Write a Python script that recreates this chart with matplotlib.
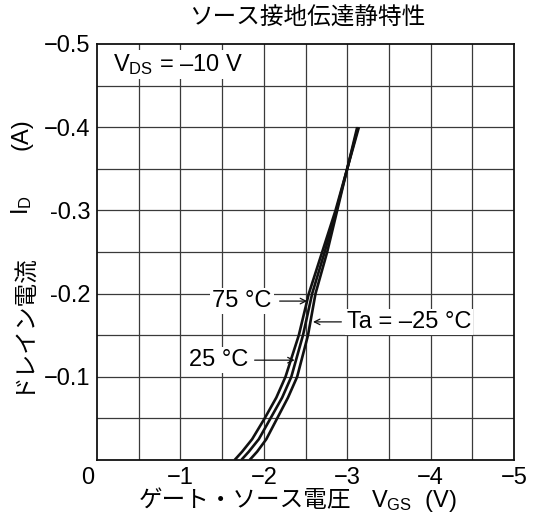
import matplotlib
matplotlib.use("Agg")
import matplotlib.pyplot as plt
from matplotlib.transforms import ScaledTranslation

plt.rcParams['font.family'] = ['Liberation Sans', 'Noto Sans CJK JP', 'DejaVu Sans']
plt.rcParams['mathtext.fontset'] = 'custom'
plt.rcParams['mathtext.rm'] = 'Liberation Sans'
plt.rcParams['mathtext.it'] = 'Liberation Sans'

# Drain current (A)
id_values = [0.0, -0.01, -0.025, -0.05, -0.075, -0.1, -0.15, -0.2, -0.25, -0.3, -0.35, -0.4]
# Gate-source voltage (V) for each temperature
vgs_75 = [-1.65, -1.74, -1.86, -2.01, -2.15, -2.26, -2.42, -2.54, -2.70, -2.86, -3.00, -3.14]
vgs_25 = [-1.73, -1.82, -1.94, -2.08, -2.22, -2.33, -2.47, -2.58, -2.73, -2.87, -3.00, -3.13]
vgs_m25 = [-1.83, -1.92, -2.03, -2.16, -2.29, -2.40, -2.53, -2.62, -2.76, -2.88, -3.00, -3.12]

x_ticks = [0, -1, -2, -3, -4, -5]
x_tick_labels = ['0', '\u22121', '\u22122', '\u22123', '\u22124', '\u22125']
y_ticks = [0, -0.1, -0.2, -0.3, -0.4, -0.5]
y_tick_labels = ['', '\u22120.1', '-0.2', '-0.3', '\u22120.4', '\u22120.5']

W, H = 533, 524
FS = 17
fig = plt.figure(figsize=(W/100, H/100), dpi=100)
ax = fig.add_axes([97/W, 1-460/H, (514-97)/W, (460-44)/H])

ax.set_xlim(0, -5)
ax.set_ylim(0, -0.5)

for v in [-0.5 * i for i in range(1, 10)]:
    ax.axvline(v, color='#3a3a3a', lw=0.9, zorder=1)
for i in [-0.05 * k for k in range(1, 10)]:
    ax.axhline(i, color='#3a3a3a', lw=0.9, zorder=1)

for vv in (vgs_75, vgs_25, vgs_m25):
    ax.plot(vv, id_values, color='#111111', lw=1.9, zorder=3, solid_capstyle='butt')

ax.set_xticks(x_ticks)
ax.set_xticklabels(x_tick_labels, fontsize=FS)
ax.set_yticks(y_ticks)
ax.set_yticklabels(y_tick_labels, fontsize=FS)
ax.tick_params(axis='x', length=0, pad=5)
ax.tick_params(axis='y', length=0, pad=5)
lab0 = ax.get_xticklabels()[0]
lab0.set_transform(lab0.get_transform() + ScaledTranslation(-0.09, 0, fig.dpi_scale_trans))
for s in ax.spines.values():
    s.set_linewidth(1.3)
    s.set_color('#111111')

bbox = dict(facecolor='white', edgecolor='none', pad=1.5)
ax.text(-0.19, -0.475, 'V$_{\\mathrm{DS}}$ = \u201310 V', fontsize=FS,
        ha='left', va='center', bbox=bbox, zorder=4)

arrow = dict(arrowstyle='->', color='#111111', lw=0.9, shrinkA=0, shrinkB=0)
ax.text(-2.095, -0.191, '75 \u00b0C', fontsize=FS, ha='right', va='center', bbox=bbox, zorder=4)
ax.annotate('', xy=(-2.52, -0.191), xytext=(-2.19, -0.191), arrowprops=arrow, zorder=4)
ax.text(-1.81, -0.12, '25 \u00b0C', fontsize=FS, ha='right', va='center', bbox=bbox, zorder=4)
ax.annotate('', xy=(-2.37, -0.12), xytext=(-1.89, -0.12), arrowprops=arrow, zorder=4)
ax.text(-2.995, -0.166, 'Ta = \u201325 \u00b0C', fontsize=FS, ha='left', va='center', bbox=bbox, zorder=4)
ax.annotate('', xy=(-2.59, -0.166), xytext=(-2.93, -0.166), arrowprops=arrow, zorder=4)

# title and axis labels (pixel positions from top-left)
fig.text(307/W, 1-18/H, 'ソース接地伝達静特性', fontsize=FS, ha='center', va='center')
fig.text(139/W, 1-507/H, 'ゲート・ソース電圧', fontsize=FS, ha='left', va='baseline')
fig.text(371/W, 1-507/H, 'V$_{\\mathrm{GS}}$  (V)', fontsize=FS, ha='left', va='baseline')
fig.text(22/W, 1-393/H, 'ドレイン電流', fontsize=FS, ha='center', va='bottom', rotation=90)
fig.text(22/W, 1-215/H, 'I$_{\\mathrm{D}}$', fontsize=FS, ha='center', va='bottom', rotation=90)
fig.text(22/W, 1-118/H, '(A)', fontsize=FS, ha='center', va='top', rotation=90)

fig.savefig('out.png', dpi=100)
